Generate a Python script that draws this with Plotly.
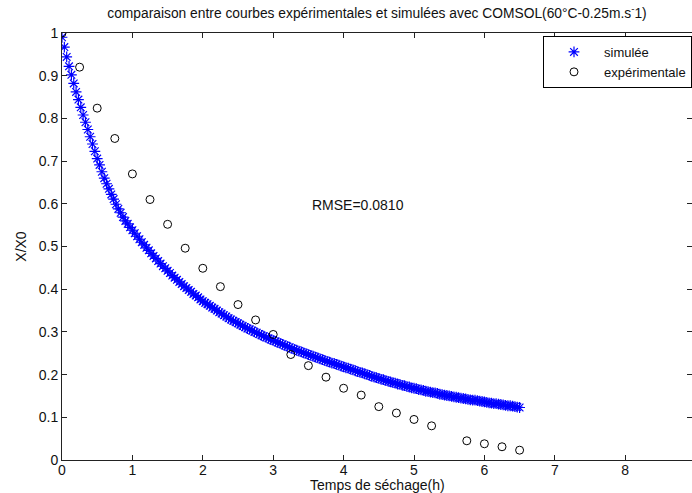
import numpy as np
import plotly.graph_objects as go

# ---- data ----
# simulated X/X0 (COMSOL), sampled every 2 min from 0 to 6.5 h
sim_values = [
    0.990, 0.967, 0.944, 0.922, 0.902, 0.882, 0.862, 0.844, 0.826, 0.808,
    0.791, 0.774, 0.757, 0.740, 0.723, 0.706, 0.691, 0.675, 0.660, 0.647,
    0.635, 0.622, 0.611, 0.599, 0.588, 0.579, 0.569, 0.560, 0.553, 0.545,
    0.538, 0.531, 0.524, 0.517, 0.510, 0.504, 0.497, 0.491, 0.484, 0.478,
    0.472, 0.466, 0.460, 0.454, 0.449, 0.443, 0.438, 0.432, 0.427, 0.422,
    0.417, 0.412, 0.407, 0.403, 0.398, 0.394, 0.389, 0.385, 0.381, 0.376,
    0.372, 0.368, 0.365, 0.361, 0.357, 0.354, 0.350, 0.346, 0.343, 0.339,
    0.336, 0.332, 0.329, 0.326, 0.323, 0.320, 0.317, 0.314, 0.311, 0.308,
    0.306, 0.303, 0.300, 0.298, 0.295, 0.292, 0.290, 0.287, 0.285, 0.282,
    0.280, 0.278, 0.275, 0.273, 0.271, 0.268, 0.266, 0.264, 0.261, 0.259,
    0.257, 0.255, 0.253, 0.251, 0.249, 0.247, 0.245, 0.243, 0.241, 0.239,
    0.237, 0.235, 0.233, 0.231, 0.229, 0.227, 0.226, 0.224, 0.222, 0.220,
    0.218, 0.216, 0.215, 0.213, 0.211, 0.209, 0.207, 0.205, 0.204, 0.202,
    0.200, 0.198, 0.196, 0.194, 0.193, 0.191, 0.189, 0.188, 0.186, 0.184,
    0.183, 0.181, 0.180, 0.178, 0.177, 0.175, 0.174, 0.172, 0.171, 0.169,
    0.168, 0.167, 0.165, 0.164, 0.163, 0.161, 0.160, 0.159, 0.158, 0.157,
    0.156, 0.154, 0.153, 0.152, 0.151, 0.150, 0.149, 0.148, 0.147, 0.146,
    0.145, 0.144, 0.143, 0.142, 0.141, 0.140, 0.140, 0.139, 0.138, 0.137,
    0.136, 0.135, 0.134, 0.133, 0.132, 0.132, 0.131, 0.130, 0.129, 0.128,
    0.127, 0.127, 0.126, 0.125, 0.124, 0.123,
]
sim_t_start = 0.0
sim_t_end = 6.5
sim_times = np.linspace(sim_t_start, sim_t_end, len(sim_values))

# experimental X/X0
exp_times = [0.0, 0.25, 0.5, 0.75, 1.0, 1.25, 1.5, 1.75, 2.0, 2.25, 2.5, 2.75,
             3.0, 3.25, 3.5, 3.75, 4.0, 4.25, 4.5, 4.75, 5.0, 5.25,
             5.75, 6.0, 6.25, 6.5]
exp_values = [1.0, 0.920, 0.824, 0.753, 0.670, 0.610, 0.552, 0.496, 0.449,
              0.406, 0.364, 0.328, 0.294, 0.247, 0.221, 0.194, 0.168, 0.152,
              0.125, 0.110, 0.095, 0.080, 0.045, 0.038, 0.031, 0.023]

x_ticks = [0, 1, 2, 3, 4, 5, 6, 7, 8]
y_ticks = [0, 0.1, 0.2, 0.3, 0.4, 0.5, 0.6, 0.7, 0.8, 0.9, 1]
y_ticktext = ["0", "0.1", "0.2", "0.3", "0.4", "0.5", "0.6", "0.7", "0.8", "0.9", "1"]

title_text = "comparaison entre courbes expérimentales et simulées avec COMSOL(60°C-0.25m.s<sup>-</sup>1)"
x_title = "Temps de séchage(h)"
y_title = "X/X0"
rmse_text = "RMSE=0.0810"

FONT = "Liberation Sans, Arial, sans-serif"
TXT = "#111"

fig = go.Figure()
fig.add_trace(go.Scatter(
    x=sim_times, y=sim_values, mode="markers", name="simulée",
    marker=dict(symbol="asterisk-open", size=9, color="#0000ff",
                line=dict(color="#0000ff", width=1.2)),
))
fig.add_trace(go.Scatter(
    x=exp_times, y=exp_values, mode="markers", name="expérimentale",
    marker=dict(symbol="circle-open", size=8, color="black",
                line=dict(color="black", width=1)),
))
# invisible trace to carry the right-hand mirror ticks
fig.add_trace(go.Scatter(x=[0], y=[0], yaxis="y2", mode="markers",
                         marker=dict(opacity=0), showlegend=False,
                         hoverinfo="skip"))

fig.add_annotation(x=4.2, y=0.597, xref="x", yref="y", text=rmse_text,
                   showarrow=False, font=dict(family=FONT, size=14, color=TXT))
# x-axis title, placed below the tick labels (plot area spans y 33..460 px)
fig.add_annotation(x=0.5, y=(460 - 485) / 427, xref="paper", yref="paper",
                   text=x_title, showarrow=False, xanchor="center",
                   yanchor="middle",
                   font=dict(family=FONT, size=14, color=TXT))

fig.update_layout(
    width=692, height=493,
    margin=dict(l=62, r=0, t=33, b=33),
    paper_bgcolor="white", plot_bgcolor="white",
    font=dict(family=FONT, size=14, color=TXT),
    title=dict(text=title_text, x=0.5, xref="paper", xanchor="center",
               y=1 - 13 / 493, yref="container", yanchor="middle",
               font=dict(family=FONT, size=13.8, color=TXT)),
    showlegend=True,
    legend=dict(x=(543 - 62) / 630, y=1 - 3 / 427, xanchor="left", yanchor="top",
                bgcolor="white", bordercolor="black", borderwidth=1,
                font=dict(family=FONT, size=13, color=TXT),
                itemwidth=50, tracegroupgap=0),
    xaxis=dict(range=[0, 630 / 70.4], tickvals=x_ticks,
               ticks="inside", ticklen=5, tickcolor="#222",
               ticklabelstandoff=-3,
               showline=True, linecolor="#222", linewidth=1, mirror="ticks",
               showgrid=False, zeroline=False,
               tickfont=dict(family=FONT, size=14, color=TXT)),
    yaxis=dict(range=[0, 1], tickvals=y_ticks, ticktext=y_ticktext,
               ticks="inside", ticklen=5, tickcolor="#222",
               showline=True, linecolor="#222", linewidth=1, mirror=False,
               showgrid=False, zeroline=False,
               tickfont=dict(family=FONT, size=14, color=TXT),
               title=dict(text=y_title, standoff=8,
                          font=dict(family=FONT, size=14, color=TXT))),
    yaxis2=dict(range=[0, 1], tickvals=y_ticks, overlaying="y", side="right",
                anchor="x", ticks="inside", ticklen=5, tickcolor="#222",
                showticklabels=False, showline=False, showgrid=False,
                zeroline=False),
)

fig.write_html("out.html")
